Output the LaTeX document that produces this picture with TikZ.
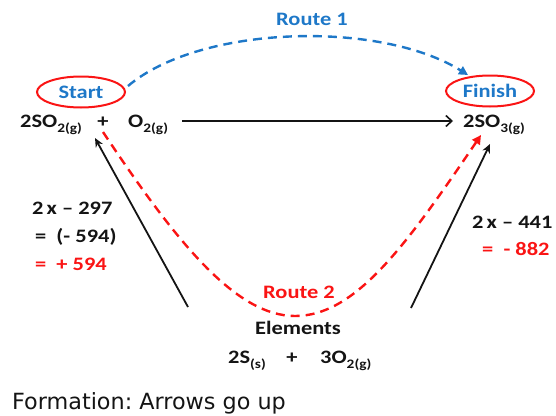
\documentclass[tikz,border=0pt]{standalone}
\usepackage{fontspec}
\setmainfont{Carlito}[FakeStretch=1.18]
\newfontfamily\capfont{DejaVu Sans}
\usetikzlibrary{arrows.meta,shapes.geometric}
\definecolor{rblue}{RGB}{30,120,200}
\definecolor{rred}{RGB}{250,20,20}
\definecolor{txt}{RGB}{20,20,20}
\newcommand{\sbs}[1]{\raisebox{-0.28em}{\fontsize{13}{13}\selectfont #1}}
\tikzset{
  lbl/.style={font=\fontsize{19}{22}\selectfont\bfseries, inner sep=0pt, text=txt},
  oval/.style={ellipse, draw=rred, line width=2pt, inner sep=0pt, minimum width=88pt, minimum height=31pt, font=\fontsize{19}{22}\selectfont\bfseries, text=rblue},
  hblk/.style={draw=txt, line width=1.8pt, -{Straight Barb[length=6pt,width=11pt,line width=1.6pt]}},
  blk/.style={draw=txt, line width=1.8pt, -{Stealth[length=9pt,width=8pt]}},
  bluedash/.style={draw=rblue, line width=2.4pt, dash pattern=on 9pt off 6pt, -{Triangle[length=9pt,width=9pt]}},
  reddash/.style={draw=rred, line width=2.4pt, dash pattern=on 9pt off 6pt, -{Triangle[length=9pt,width=9pt]}},
}
\frenchspacing
\begin{document}
\begin{tikzpicture}[x=1pt,y=-1pt]
\useasboundingbox (0,0) rectangle (556,415);
% ellipses
\node[oval] (start) at (81,92) {Start};
\node[oval] (finish) at (490,91) {Finish};
% top row
\node[lbl, anchor=base west] (so2) at (20,127) {2SO\sbs{2(g)}};
\node[lbl, anchor=base] (plus1) at (103,127) {+};
\node[lbl, anchor=base west] (o2) at (128,127) {O\sbs{2(g)}};
\node[lbl, anchor=base west] (so3) at (463,127) {2SO\sbs{3(g)}};
% route labels
\node[lbl, text=rblue] (route1) at (312,19) {Route 1};
\node[lbl, text=rred] (route2) at (299,292) {Route 2};
% elements
\node[lbl] (elem) at (298,328) {Elements};
\node[lbl, anchor=base west] (s2) at (228,363) {2S\sbs{(s)}};
\node[lbl, anchor=base] (plus2) at (292,363) {+};
\node[lbl, anchor=base west] (o3) at (320,363) {3O\sbs{2(g)}};
% enthalpy labels
\node[lbl, anchor=west] (l1) at (32,208) {2\,x -- 297};
\node[lbl, anchor=west] (l2) at (35,237) {=\ \ (- 594)};
\node[lbl, anchor=west, text=rred] (l3) at (35,264) {=\ \ + 594};
\node[lbl, anchor=west] (r1) at (472,222) {2\,x -- 441};
\node[lbl, anchor=west, text=rred] (r2) at (482,249) {=\ \ - 882};
% caption
\node[font=\capfont\fontsize{22.3}{24}\selectfont, anchor=base west, inner sep=0pt, text=txt] (cap) at (12,409) {Formation: Arrows go up};
% connector coordinates
\coordinate (hA) at (182,121);
\coordinate (hB) at (453,121);
\coordinate (lA) at (188,307);
\coordinate (lB) at (95,138);
\coordinate (rA) at (411,308);
\coordinate (rB) at (490,144);
\coordinate (b1) at (128,86);
\coordinate (b2) at (468,75);
\coordinate (d1) at (103,132);
\coordinate (dm) at (295,316);
\coordinate (d2) at (481,135);
% connectors
\draw[hblk] (hA) -- (hB);
\draw[blk] (lA) -- (lB);
\draw[blk] (rA) -- (rB);
\draw[bluedash] (b1) .. controls (200,25) and (380,20) .. (b2);
\draw[reddash] (d1) .. controls (175,240) and (235,316) .. (dm) .. controls (355,316) and (405,247) .. (d2);
\end{tikzpicture}
\end{document}
